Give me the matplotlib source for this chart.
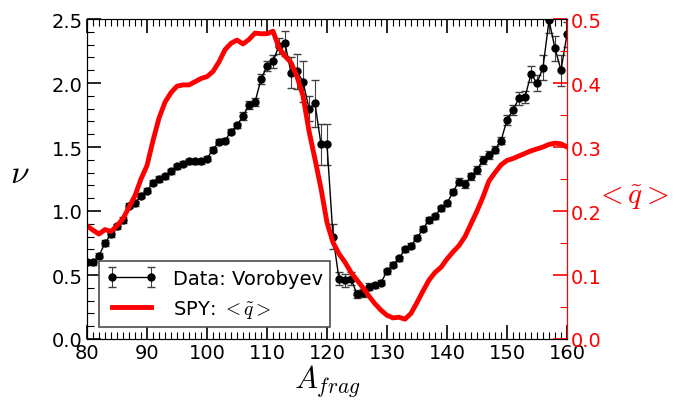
import numpy as np
import matplotlib.pyplot as plt

plt.rcParams['mathtext.fontset'] = 'cm'

# Vorobyev data (nu vs fragment mass)
a_frag = list(range(80, 161))
nu = [0.60, 0.60, 0.65, 0.75, 0.82, 0.88, 0.93, 1.04, 1.06, 1.12,
      1.16, 1.22, 1.25, 1.27, 1.31, 1.35, 1.37, 1.39, 1.39, 1.39,
      1.41, 1.48, 1.54, 1.55, 1.62, 1.67, 1.74, 1.83, 1.85, 2.03,
      2.13, 2.17, 2.29, 2.31, 2.08, 2.09, 2.01, 1.80, 1.84, 1.52,
      1.52, 0.80, 0.47, 0.46, 0.47, 0.35, 0.36, 0.41, 0.42, 0.44,
      0.53, 0.58, 0.63, 0.70, 0.73, 0.79, 0.86, 0.93, 0.96, 1.02,
      1.06, 1.15, 1.23, 1.21, 1.27, 1.32, 1.40, 1.44, 1.48, 1.55,
      1.71, 1.79, 1.88, 1.89, 2.07, 2.00, 2.12, 2.49, 2.27, 2.10,
      2.38]
nu_err = [0.02, 0.02, 0.02, 0.02, 0.02, 0.02, 0.02, 0.02, 0.02, 0.02,
          0.02, 0.02, 0.02, 0.02, 0.02, 0.02, 0.02, 0.02, 0.02, 0.02,
          0.02, 0.02, 0.02, 0.02, 0.02, 0.02, 0.03, 0.03, 0.03, 0.04,
          0.04, 0.05, 0.06, 0.10, 0.12, 0.14, 0.16, 0.10, 0.18, 0.16,
          0.16, 0.10, 0.05, 0.05, 0.05, 0.03, 0.03, 0.03, 0.02, 0.02,
          0.02, 0.02, 0.02, 0.02, 0.02, 0.02, 0.02, 0.02, 0.02, 0.02,
          0.02, 0.02, 0.03, 0.03, 0.03, 0.03, 0.03, 0.03, 0.03, 0.03,
          0.04, 0.04, 0.05, 0.05, 0.06, 0.06, 0.10, 0.10, 0.10, 0.12,
          0.10]

# SPY model <q~>
q_mean = [0.177, 0.170, 0.164, 0.171, 0.168, 0.177, 0.188, 0.206, 0.224, 0.250,
          0.271, 0.310, 0.345, 0.370, 0.385, 0.395, 0.397, 0.397, 0.402, 0.407,
          0.410, 0.418, 0.433, 0.452, 0.462, 0.467, 0.461, 0.468, 0.478, 0.477,
          0.477, 0.481, 0.455, 0.442, 0.432, 0.410, 0.380, 0.325, 0.281, 0.235,
          0.182, 0.151, 0.133, 0.120, 0.104, 0.092, 0.080, 0.067, 0.055, 0.045,
          0.037, 0.033, 0.034, 0.031, 0.040, 0.057, 0.075, 0.092, 0.104, 0.112,
          0.125, 0.136, 0.146, 0.160, 0.180, 0.200, 0.222, 0.247, 0.260, 0.272,
          0.279, 0.282, 0.286, 0.290, 0.294, 0.297, 0.300, 0.304, 0.306, 0.305,
          0.300]

fig = plt.figure(figsize=(6.81, 4.02), dpi=100)
ax = fig.add_axes([87/681, 1 - 340/402, 480/681, 320/402])
ax2 = ax.twinx()

h1 = ax.errorbar(a_frag, nu, yerr=nu_err, fmt='o-', color='k', ms=5, lw=1,
                 capsize=3, elinewidth=0.8, ecolor='0.25', label='Data: Vorobyev')
h2, = ax2.plot(a_frag, q_mean, color='red', lw=3.5, label=r'SPY: $<\tilde{q}>$')

ax.set_xlim(80, 160)
ax.set_ylim(0, 2.5)
ax2.set_ylim(0, 0.5)

ax.set_xticks(np.arange(80, 161, 10))
ax.set_xticks(np.arange(80, 161, 1), minor=True)
ax.set_yticks(np.arange(0, 2.51, 0.5))
ax.set_yticks(np.arange(0, 2.51, 0.1), minor=True)
ax2.set_yticks(np.arange(0, 0.51, 0.1))
ax2.set_yticks(np.arange(0, 0.51, 0.05), minor=True)

ax.tick_params(which='both', direction='in', top=True, right=False, labelsize=14, pad=3)
ax.tick_params(which='major', length=10, width=1.2)
ax.tick_params(which='minor', length=5, width=0.8)
ax2.tick_params(which='both', direction='in', colors='red', labelsize=14, pad=3)
ax2.tick_params(which='major', length=10, width=1.2)
ax2.tick_params(which='minor', length=5, width=0.8)
ax2.spines['right'].set_color('red')

ax.set_xlabel(r'$A_{frag}$', fontsize=22, labelpad=0)
ax.set_ylabel(r'$\nu$', fontsize=24, rotation=0)
ax.yaxis.set_label_coords(-0.14, 0.47)
ax2.set_ylabel(r'$<\tilde{q}>$', fontsize=21, rotation=0, color='red')
ax2.yaxis.set_label_coords(1.135, 0.49)

leg = ax2.legend([h1, h2], ['Data: Vorobyev', r'SPY: $<\tilde{q}>$'], loc='lower left',
                 fontsize=14, fancybox=False, edgecolor='0.3', framealpha=1,
                 borderaxespad=0.6, handlelength=2.6, numpoints=2)
leg.get_frame().set_linewidth(1.2)

fig.savefig('out.png', dpi=100)
